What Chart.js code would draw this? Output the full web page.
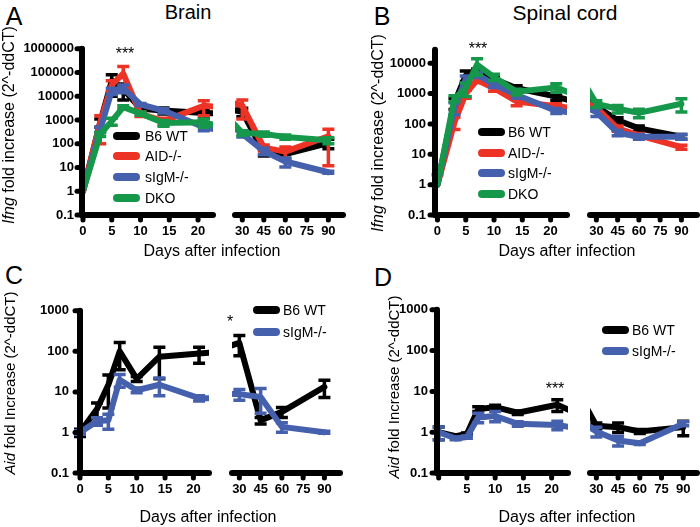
<!DOCTYPE html>
<html><head><meta charset="utf-8">
<script src="https://cdn.jsdelivr.net/npm/chart.js@4.4.1/dist/chart.umd.min.js"></script>
<style>
html,body{margin:0;padding:0;background:#fff;}
#wrap{position:relative;width:700px;height:527px;overflow:hidden;background:#fff;font-family:'Liberation Sans',Arial,Helvetica,sans-serif;color:#000;}
canvas{position:absolute;}
.t{position:absolute;transform:translate(-50%,-50%);line-height:1;white-space:nowrap;}
.l{position:absolute;transform:translate(0,-50%);line-height:1;white-space:nowrap;font-size:14px;}
.sw{position:absolute;height:8px;width:27px;border-radius:4px;transform:translate(0,-50%);}
.yt{position:absolute;transform:translate(-50%,-50%) rotate(-90deg);line-height:1;white-space:nowrap;}
</style></head><body><div id="wrap"></div>
<script>
// ---- data ----
const days = [0, 3, 5, 7, 10, 14, 21, 30, 45, 60, 90];
const seriesNames = ['B6 WT', 'AID-/-', 'sIgM-/-', 'DKO'];
const xTicksLeft = [0, 5, 10, 15, 20];
const xTicksRight = [30, 45, 60, 75, 90];
const xLabelsD = [5, 10, 15, 20];
const yTicksA = [0.1, 1, 10, 100, 1000, 10000, 100000, 1000000];
const yTicksB = [0.1, 1, 10, 100, 1000, 10000];
const yTicksCD = [0.1, 1, 10, 100, 1000];

// Panel A: Brain, Ifng
const A_WT = [1, 800, 45000, 20000, 3000, 2500, 2000, 1600, 35, 30, 85];
const A_WT_SEM = [0, 300, 35000, 13000, 800, 700, 800, 600, 10, 10, 35];
const A_AID = [1, 800, 30000, 90000, 1800, 900, 4000, 2800, 55, 38, 160];
const A_AID_SEM = [0, 700, 15000, 90000, 400, 300, 2500, 2000, 15, 20, 150];
const A_SIGM = [1, 400, 17000, 22000, 4500, 2500, 500, 200, 40, 15, 5.5];
const A_SIGM_SEM = [0, 100, 5000, 8000, 500, 500, 150, 50, 12, 6, 0.5];
const A_DKO = [1, 250, 900, 3500, 1900, 750, 800, 220, 200, 150, 110];
const A_DKO_SEM = [0, 50, 300, 500, 300, 200, 300, 50, 40, 30, 30];

// Panel B: Spinal cord, Ifng
const B_WT = [1, 500, 4000, 5000, 3000, 1500, 800, 270, 100, 55, 30];
const B_WT_SEM = [0, 200, 1500, 1500, 600, 300, 200, 50, 20, 10, 5];
const B_AID = [1, 115, 1000, 2800, 1500, 550, 380, 250, 55, 33, 14];
const B_AID_SEM = [1.1, 50, 300, 500, 300, 150, 80, 40, 10, 5, 2];
const B_SIGM = [1, 350, 3000, 4200, 2000, 900, 270, 180, 40, 30, 30];
const B_SIGM_SEM = [0, 150, 800, 800, 400, 200, 50, 50, 8, 5, 5];
const B_DKO = [1, 700, 1500, 9000, 3500, 1150, 1600, 330, 230, 170, 330];
const B_DKO_SEM = [0, 150, 700, 5000, 800, 250, 500, 80, 60, 50, 150];

// Panel C: Brain, Aid
const C_WT = [1, 3.8, 15, 100, 21, 74, 89, 110, 1.7, 2.7, 10.3];
const C_WT_SEM = [0.2, 1.5, 11, 65, 3, 53, 38, 55, 0.3, 0.7, 4.5];
const C_SIGM = [1, 1.9, 2.0, 20, 11, 15, 7, 7, 6, 1.2, 0.9];
const C_SIGM_SEM = [0.1, 0.4, 0.8, 7, 1.5, 7, 1, 2, 3.5, 0.3, 0.05];

// Panel D: Spinal cord, Aid
const D_WT = [1, 0.8, 0.9, 3.7, 4.1, 3.0, 4.7, 1.3, 1.2, 0.95, 1.2];
const D_WT_SEM = [0.35, 0.05, 0.05, 0.5, 0.5, 0.3, 1.5, 0.2, 0.3, 0.1, 0.45];
const D_SIGM = [1, 0.7, 0.76, 2.3, 2.5, 1.6, 1.5, 0.95, 0.58, 0.5, 1.45];
const D_SIGM_SEM = [0.35, 0.05, 0.05, 0.6, 0.7, 0.2, 0.35, 0.25, 0.15, 0.03, 0.15];

const COLORS = {wt:'#000000', aid:'#ec3326', sigm:'#4560ad', dko:'#16984a'};
const FONT = "'Liberation Sans', Arial, Helvetica, sans-serif";
const wrap = document.getElementById('wrap');

// ---- plugins ----
const errorBars = {
  id: 'errorBars',
  beforeDatasetDraw(chart, args) {
    const ds = chart.data.datasets[args.index];
    if (!ds.errors) return;
    const xs = chart.scales.x, ys = chart.scales.y, ctx = chart.ctx;
    ctx.save();
    ctx.strokeStyle = ds.borderColor; ctx.lineWidth = 3.5; ctx.lineCap = 'butt';
    ds.data.forEach((p, i) => {
      const e = ds.errors[i];
      if (!e || p.x < xs.min || p.x > xs.max) return;
      const px = xs.getPixelForValue(p.x);
      const py = ys.getPixelForValue(p.y);
      const hi = ys.getPixelForValue(Math.min(p.y + e, ys.max));
      const lo = (p.y - e) > ys.min ? ys.getPixelForValue(p.y - e) : null;
      ctx.beginPath();
      ctx.moveTo(px, py); ctx.lineTo(px, hi);
      ctx.moveTo(px - 6, hi); ctx.lineTo(px + 6, hi);
      if (lo !== null) { ctx.moveTo(px, py); ctx.lineTo(px, lo); ctx.moveTo(px - 6, lo); ctx.lineTo(px + 6, lo); }
      ctx.stroke();
    });
    ctx.restore();
  }
};
const prismAxes = {
  id: 'prismAxes',
  afterDraw(chart, args, opts) {
    const {ctx, chartArea: a} = chart;
    const xs = chart.scales.x, ys = chart.scales.y;
    ctx.save();
    ctx.strokeStyle = '#000'; ctx.lineCap = 'round';
    ctx.lineWidth = 6;
    ctx.beginPath(); ctx.moveTo(a.left, a.bottom); ctx.lineTo(a.right, a.bottom); ctx.stroke();
    ctx.lineWidth = 5;
    xs.ticks.forEach(t => { const x = xs.getPixelForValue(t.value); ctx.beginPath(); ctx.moveTo(x, a.bottom); ctx.lineTo(x, a.bottom + 5); ctx.stroke(); });
    if (opts.yAxis) {
      ctx.lineWidth = 6;
      ctx.beginPath(); ctx.moveTo(a.left, a.top); ctx.lineTo(a.left, a.bottom); ctx.stroke();
      ctx.lineWidth = 5;
      ys.ticks.forEach(t => { const y = ys.getPixelForValue(t.value); ctx.beginPath(); ctx.moveTo(a.left - 5, y); ctx.lineTo(a.left, y); ctx.stroke(); });
    }
    ctx.restore();
  }
};

function segChart(c) {
  const padTop = 10, xH = 40, padR = 3;
  const left = c.yAxis ? c.x0 : c.L - 10;
  const top = c.T - padTop;
  const w = c.R + padR - left, h = c.B + xH - top;
  const cv = document.createElement('canvas');
  cv.width = w; cv.height = h; cv.style.left = left + 'px'; cv.style.top = top + 'px';
  wrap.appendChild(cv);
  const datasets = c.series.map(s => ({
    label: s.name,
    data: days.map((d, i) => ({x: d, y: s.values[i]})),
    errors: s.sem,
    borderColor: s.color, backgroundColor: s.color,
    borderWidth: 6, pointRadius: 0, tension: 0,
    borderJoinStyle: 'round', borderCapStyle: 'round',
    order: s.order
  }));
  new Chart(cv, {
    type: 'line',
    data: {datasets},
    options: {
      responsive: false, animation: false, devicePixelRatio: 1,
      layout: {padding: {top: padTop, right: padR, left: c.yAxis ? 0 : 10, bottom: 0}},
      plugins: {legend: {display: false}, tooltip: {enabled: false}, prismAxes: {yAxis: c.yAxis}},
      scales: {
        x: {
          type: 'linear', min: c.xmin, max: c.xmax, bounds: 'data',
          afterBuildTicks: s => { s.ticks = c.xticks.map(v => ({value: v})); },
          afterFit: s => { s.height = xH; },
          grid: {display: false, drawTicks: false}, border: {display: false},
          ticks: {padding: 9, maxRotation: 0, minRotation: 0, autoSkip: false, color: '#000',
            font: {family: FONT, size: 13, weight: 'bold'},
            callback: v => (c.xlabels.includes(v) ? String(v) : '')}
        },
        y: {
          type: 'logarithmic', min: c.ymin, max: c.ymax, display: c.yAxis,
          afterBuildTicks: s => { s.ticks = c.yticks.map(v => ({value: v})); },
          afterFit: s => { s.width = c.L - left; },
          grid: {display: false, drawTicks: false}, border: {display: false},
          ticks: {padding: c.ypad || 8, color: '#000', font: {family: FONT, size: 13, weight: 'bold'},
            callback: v => String(v)}
        }
      }
    },
    plugins: [errorBars, prismAxes]
  });
}

function panel(p) {
  segChart(Object.assign({}, p.common, {yAxis: true, x0: p.x0, L: p.left.L, R: p.left.R, xmin: p.left.min, xmax: p.left.max, xticks: xTicksLeft, xlabels: p.leftLabels}));
  segChart(Object.assign({}, p.common, {yAxis: false, L: p.right.L, R: p.right.R, xmin: p.right.min, xmax: p.right.max, xticks: xTicksRight, xlabels: xTicksRight}));
}

const sA = [
  {name: seriesNames[0], color: COLORS.wt, values: A_WT, sem: A_WT_SEM, order: 3},
  {name: seriesNames[1], color: COLORS.aid, values: A_AID, sem: A_AID_SEM, order: 2},
  {name: seriesNames[2], color: COLORS.sigm, values: A_SIGM, sem: A_SIGM_SEM, order: 1},
  {name: seriesNames[3], color: COLORS.dko, values: A_DKO, sem: A_DKO_SEM, order: 0}];
const sB = [
  {name: seriesNames[0], color: COLORS.wt, values: B_WT, sem: B_WT_SEM, order: 3},
  {name: seriesNames[1], color: COLORS.aid, values: B_AID, sem: B_AID_SEM, order: 2},
  {name: seriesNames[2], color: COLORS.sigm, values: B_SIGM, sem: B_SIGM_SEM, order: 1},
  {name: seriesNames[3], color: COLORS.dko, values: B_DKO, sem: B_DKO_SEM, order: 0}];
const sC = [
  {name: seriesNames[0], color: COLORS.wt, values: C_WT, sem: C_WT_SEM, order: 1},
  {name: seriesNames[2], color: COLORS.sigm, values: C_SIGM, sem: C_SIGM_SEM, order: 0}];
const sD = [
  {name: seriesNames[0], color: COLORS.wt, values: D_WT, sem: D_WT_SEM, order: 1},
  {name: seriesNames[2], color: COLORS.sigm, values: D_SIGM, sem: D_SIGM_SEM, order: 0}];

panel({x0: 0, common: {T: 43, B: 215, ymin: 0.1, ymax: 1000000, yticks: yTicksA, series: sA, ypad: 8},
  left: {L: 82, R: 213, min: -0.17, max: 22.6}, right: {L: 225, R: 343, min: 24.9, max: 100.2}, leftLabels: xTicksLeft});
panel({x0: 350, common: {T: 43, B: 215, ymin: 0.1, ymax: 27700, yticks: yTicksB, series: sB, ypad: 9},
  left: {L: 435, R: 567, min: -0.44, max: 22.9}, right: {L: 580, R: 697, min: 25.5, max: 101}, leftLabels: xTicksLeft});
panel({x0: 0, common: {T: 302, B: 473, ymin: 0.1, ymax: 1000, yticks: yTicksCD, series: sC, ypad: 11},
  left: {L: 80, R: 209, min: 0, max: 22.75}, right: {L: 222, R: 340, min: 24.8, max: 101}, leftLabels: xTicksLeft});
panel({x0: 350, common: {T: 303, B: 473, ymin: 0.1, ymax: 1000, yticks: yTicksCD, series: sD, ypad: 9},
  left: {L: 437, R: 568, min: -0.3, max: 22.9}, right: {L: 580, R: 697, min: 25.6, max: 99.5}, leftLabels: xLabelsD});

// ---- text ----
function txt(s, x, y, size, cls, extra) {
  const d = document.createElement('div');
  d.className = cls || 't';
  d.style.left = x + 'px'; d.style.top = y + 'px'; d.style.fontSize = size + 'px';
  if (extra) Object.assign(d.style, extra);
  d.innerHTML = s; wrap.appendChild(d); return d;
}
txt('A', 14, 16, 25); txt('B', 382, 16, 25); txt('C', 14, 275, 25); txt('D', 383, 277, 25);
txt('Brain', 188, 12, 20); txt('Spinal cord', 565, 12, 21);
txt('***', 125, 54, 16); txt('***', 478, 49, 16); txt('*', 230, 322, 16); txt('***', 555, 389, 16);
txt('Days after infection', 212, 251, 16); txt('Days after infection', 567, 251, 16);
txt('Days after infection', 208, 517, 16); txt('Days after infection', 567, 517, 16);
txt('<i>Ifng</i> fold increase (2^-ddCT)', 9, 125, 16, 'yt');
txt('<i>Ifng</i> fold increase (2^-ddCT)', 378, 133, 16, 'yt');
txt('<i>Aid</i> fold Increase (2^-ddCT)', 9, 383, 15, 'yt');
txt('<i>Aid</i> fold Increase (2^-ddCT)', 393, 387, 15, 'yt');

function legend(series, sx, tx, rows) {
  series.forEach((s, i) => {
    const sw = document.createElement('div');
    sw.className = 'sw'; sw.style.left = sx + 'px'; sw.style.top = rows[i] + 'px'; sw.style.background = s.color;
    wrap.appendChild(sw);
    txt(s.name, tx, rows[i], 14, 'l');
  });
}
legend(sA, 113, 145, [136, 156, 177, 198]);
legend(sB, 478, 508, [132, 153, 173, 194]);
legend(sC, 253, 283, [310, 332]);
legend(sD, 602, 632, [330, 351]);
</script></body></html>
